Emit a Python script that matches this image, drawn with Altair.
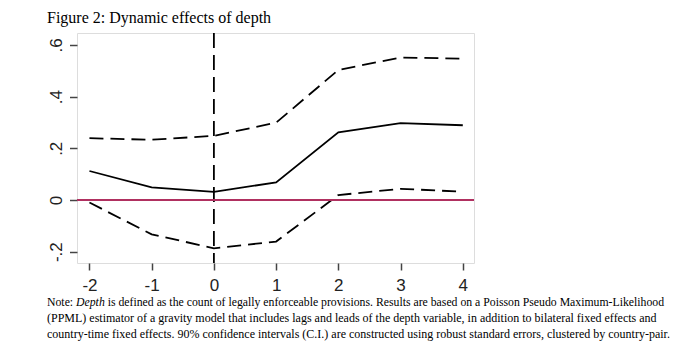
import altair as alt
import pandas as pd

# ---- data ----
periods = [-2, -1, 0, 1, 2, 3, 4]
coef = [0.112, 0.049, 0.031, 0.068, 0.262, 0.297, 0.289]
upper = [0.239, 0.233, 0.248, 0.299, 0.503, 0.551, 0.547]
lower = [-0.010, -0.133, -0.187, -0.161, 0.019, 0.043, 0.032]

x_ticks = [-2, -1, 0, 1, 2, 3, 4]
y_ticks = [-0.2, 0.0, 0.2, 0.4, 0.6]

title_text = "Figure 2: Dynamic effects of depth"
note_prefix = "Note:"
note_italic = "Depth"
note_line1_rest = "is defined as the count of legally enforceable provisions. Results are based on a Poisson Pseudo Maximum-Likelihood"
note_line2 = "(PPML) estimator of a gravity model that includes lags and leads of the depth variable, in addition to bilateral fixed effects and"
note_line3 = "country-time fixed effects. 90% confidence intervals (C.I.) are constructed using robust standard errors, clustered by country-pair."

df = pd.DataFrame({"t": periods, "coef": coef, "upper": upper, "lower": lower})

W, H = 397, 230
SERIF = "Liberation Serif"
SANS = "Liberation Sans"
NOTE_SIZE = 12
LINE1_SIZE = 11.75

xscale = alt.Scale(domain=[-2.2, 4.18], nice=False, zero=False)
yscale = alt.Scale(domain=[-0.244, 0.646], nice=False, zero=False)

xaxis = alt.Axis(values=x_ticks, title=None, grid=False, domain=False,
                 labelExpr="'' + datum.value", labelFont=SANS, labelFontSize=17,
                 labelColor="#222", tickColor="#444", tickWidth=1.5, tickSize=7,
                 labelPadding=7, labelFlush=False)
yaxis = alt.Axis(values=y_ticks, title=None, grid=False, domain=False,
                 labelExpr="datum.value == 0 ? '0' : replace('' + datum.value, '0.', '.')",
                 labelFont=SANS, labelFontSize=17, labelColor="#222",
                 labelAngle=270, labelAlign="center", labelBaseline="alphabetic",
                 tickColor="#444", tickWidth=1.5, tickSize=7.5, labelPadding=8,
                 labelFlush=False)

base = alt.Chart(df)

upper_line = base.mark_line(color="black", strokeWidth=1.8, strokeDash=[14, 7]).encode(
    x=alt.X("t:Q", scale=xscale, axis=xaxis), y=alt.Y("upper:Q", scale=yscale, axis=yaxis))
lower_line = base.mark_line(color="black", strokeWidth=1.8, strokeDash=[14, 7]).encode(
    x="t:Q", y="lower:Q")
coef_line = base.mark_line(color="black", strokeWidth=1.8).encode(x="t:Q", y="coef:Q")

vline = alt.Chart(pd.DataFrame({"t": [0]})).mark_rule(
    color="black", strokeWidth=1.8, strokeDash=[15, 7]).encode(x="t:Q")
hline = alt.Chart(pd.DataFrame({"v": [0]})).mark_rule(
    color="#b03060", strokeWidth=2).encode(y=alt.Y("v:Q"))

def txt(s, x, y, size, italic=False):
    return alt.Chart(pd.DataFrame({"s": [s]})).mark_text(
        font=SERIF, fontSize=size, align="left", baseline="alphabetic",
        fontStyle="italic" if italic else "normal", color="black").encode(
        text="s:N", x=alt.value(x), y=alt.value(y))

NX = -30
pre_w = (2.222 + 0.25) * LINE1_SIZE   # "Note: "
ital_w = (2.444 + 0.25) * LINE1_SIZE  # "Depth "
texts = [
    txt(title_text, NX, -10, 16),
    txt(note_prefix, NX, 273, LINE1_SIZE),
    txt(note_italic, NX + pre_w, 273, LINE1_SIZE, italic=True),
    txt(note_line1_rest, NX + pre_w + ital_w, 273, LINE1_SIZE),
    txt(note_line2, NX, 289, NOTE_SIZE),
    txt(note_line3, NX, 305, NOTE_SIZE),
]

chart = alt.layer(upper_line, lower_line, coef_line, vline, hline, *texts).properties(
    width=W, height=H,
    autosize=alt.AutoSizeParams(type="none"),
    padding={"left": 69, "top": 25, "right": 207, "bottom": 85},
).configure_view(stroke="#444", strokeWidth=1.5).configure(background="white")

chart.save("out.html", embed_options={"renderer": "svg", "actions": False})
